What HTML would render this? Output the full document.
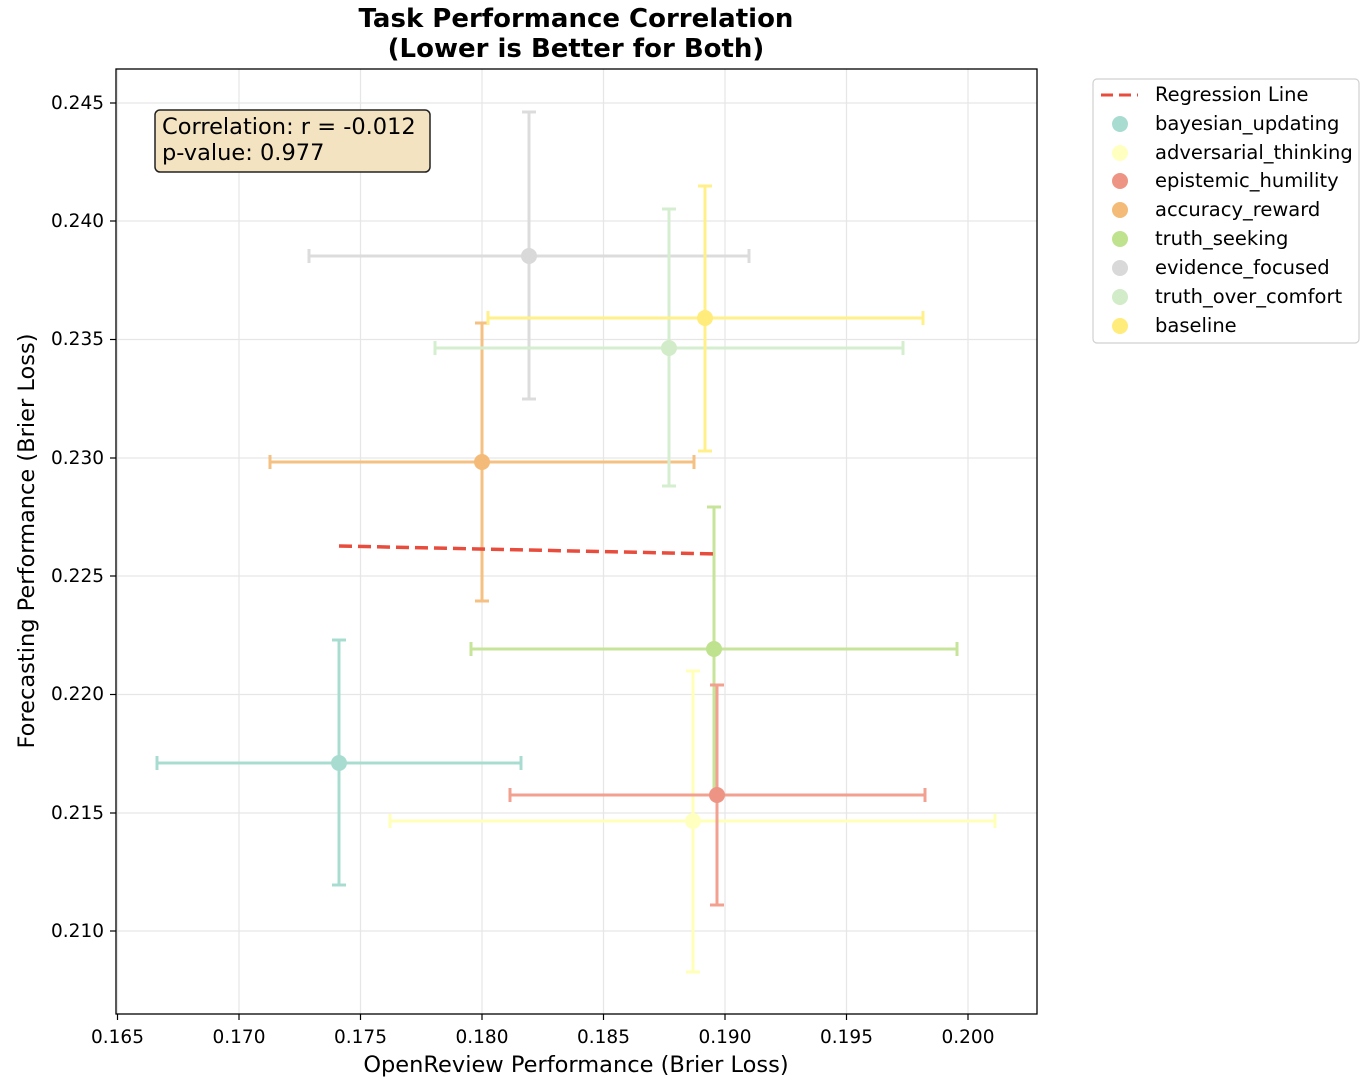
<!DOCTYPE html>
<html><head><meta charset="utf-8"><style>body{margin:0;background:#fff}svg{display:block}text{font-family:"DejaVu Sans","Liberation Sans",sans-serif}</style></head><body>
<svg width="1368" height="1082" viewBox="0 0 1368 1082" xmlns="http://www.w3.org/2000/svg">
<rect width="1368" height="1082" fill="#fff"/>
<text x="576" y="27" font-size="26" font-weight="bold" text-anchor="middle">Task Performance Correlation</text>
<text x="576" y="57" font-size="26" font-weight="bold" text-anchor="middle">(Lower is Better for Both)</text>
<g stroke="#e6e6e6" stroke-width="1.2">
<line x1="117.5" y1="69" x2="117.5" y2="1014"/><line x1="239" y1="69" x2="239" y2="1014"/><line x1="360.5" y1="69" x2="360.5" y2="1014"/><line x1="482" y1="69" x2="482" y2="1014"/><line x1="603.5" y1="69" x2="603.5" y2="1014"/><line x1="725" y1="69" x2="725" y2="1014"/><line x1="846.5" y1="69" x2="846.5" y2="1014"/><line x1="968" y1="69" x2="968" y2="1014"/>
<line x1="116" y1="103" x2="1037" y2="103"/><line x1="116" y1="221" x2="1037" y2="221"/><line x1="116" y1="339.5" x2="1037" y2="339.5"/><line x1="116" y1="458" x2="1037" y2="458"/><line x1="116" y1="576" x2="1037" y2="576"/><line x1="116" y1="694.5" x2="1037" y2="694.5"/><line x1="116" y1="813" x2="1037" y2="813"/><line x1="116" y1="931" x2="1037" y2="931"/>
</g>
<g stroke-width="3" fill="none">
<g stroke="#a8dcd1"><line x1="157" y1="763" x2="521" y2="763"/><line x1="339" y1="640" x2="339" y2="885"/><line x1="157" y1="756" x2="157" y2="770"/><line x1="521" y1="756" x2="521" y2="770"/><line x1="332" y1="640" x2="346" y2="640"/><line x1="332" y1="885" x2="346" y2="885"/></g>
<g stroke="#ffffb8"><line x1="390" y1="821" x2="995" y2="821"/><line x1="693" y1="671" x2="693" y2="972"/><line x1="390" y1="814" x2="390" y2="828"/><line x1="995" y1="814" x2="995" y2="828"/><line x1="686" y1="671" x2="700" y2="671"/><line x1="686" y1="972" x2="700" y2="972"/></g>
<g stroke="#c7e59a"><line x1="471" y1="649" x2="957" y2="649"/><line x1="714" y1="507" x2="714" y2="792"/><line x1="471" y1="642" x2="471" y2="656"/><line x1="957" y1="642" x2="957" y2="656"/><line x1="707" y1="507" x2="721" y2="507"/></g>
<g stroke="#f2a08f"><line x1="510" y1="795" x2="925" y2="795"/><line x1="717" y1="685" x2="717" y2="905"/><line x1="510" y1="788" x2="510" y2="802"/><line x1="925" y1="788" x2="925" y2="802"/><line x1="710" y1="685" x2="724" y2="685"/><line x1="710" y1="905" x2="724" y2="905"/></g>
<g stroke="#f5c182"><line x1="270" y1="462" x2="694" y2="462"/><line x1="482" y1="323" x2="482" y2="601"/><line x1="270" y1="455" x2="270" y2="469"/><line x1="694" y1="455" x2="694" y2="469"/><line x1="475" y1="323" x2="489" y2="323"/><line x1="475" y1="601" x2="489" y2="601"/></g>
<g stroke="#dcdcdc"><line x1="309" y1="256" x2="749" y2="256"/><line x1="529" y1="112" x2="529" y2="399"/><line x1="309" y1="249" x2="309" y2="263"/><line x1="749" y1="249" x2="749" y2="263"/><line x1="522" y1="112" x2="536" y2="112"/><line x1="522" y1="399" x2="536" y2="399"/></g>
<g stroke="#d6eed0"><line x1="435" y1="348" x2="903" y2="348"/><line x1="669" y1="209" x2="669" y2="486"/><line x1="435" y1="341" x2="435" y2="355"/><line x1="903" y1="341" x2="903" y2="355"/><line x1="662" y1="209" x2="676" y2="209"/><line x1="662" y1="486" x2="676" y2="486"/></g>
<g stroke="#fff08a"><line x1="488" y1="318" x2="923" y2="318"/><line x1="705" y1="186" x2="705" y2="451"/><line x1="488" y1="311" x2="488" y2="325"/><line x1="923" y1="311" x2="923" y2="325"/><line x1="698" y1="186" x2="712" y2="186"/><line x1="698" y1="451" x2="712" y2="451"/></g>
</g>
<circle cx="339" cy="763" r="8" fill="#a8dcd1"/><circle cx="693" cy="821" r="8" fill="#ffffc0"/><circle cx="714" cy="649" r="8" fill="#bfe28e"/><circle cx="717" cy="795" r="8" fill="#ee9484"/><circle cx="482" cy="462" r="8" fill="#f4bb78"/><circle cx="529" cy="256" r="8" fill="#d9d9d9"/><circle cx="669" cy="348" r="8" fill="#d2ecca"/><circle cx="705" cy="318" r="8" fill="#ffec7a"/>
<line x1="339" y1="546" x2="717" y2="554" stroke="#e74c3c" stroke-width="3.5" stroke-dasharray="13,6"/>
<rect x="116" y="69" width="921" height="945" fill="none" stroke="#000" stroke-width="1.3"/>
<g stroke="#000" stroke-width="1.2"><line x1="117.5" y1="1014" x2="117.5" y2="1020"/><line x1="239" y1="1014" x2="239" y2="1020"/><line x1="360.5" y1="1014" x2="360.5" y2="1020"/><line x1="482" y1="1014" x2="482" y2="1020"/><line x1="603.5" y1="1014" x2="603.5" y2="1020"/><line x1="725" y1="1014" x2="725" y2="1020"/><line x1="846.5" y1="1014" x2="846.5" y2="1020"/><line x1="968" y1="1014" x2="968" y2="1020"/>
<line x1="110" y1="103" x2="116" y2="103"/><line x1="110" y1="221" x2="116" y2="221"/><line x1="110" y1="339.5" x2="116" y2="339.5"/><line x1="110" y1="458" x2="116" y2="458"/><line x1="110" y1="576" x2="116" y2="576"/><line x1="110" y1="694.5" x2="116" y2="694.5"/><line x1="110" y1="813" x2="116" y2="813"/><line x1="110" y1="931" x2="116" y2="931"/></g>
<g font-size="18.5" text-anchor="middle"><text x="117.5" y="1043">0.165</text><text x="239" y="1043">0.170</text><text x="360.5" y="1043">0.175</text><text x="482" y="1043">0.180</text><text x="603.5" y="1043">0.185</text><text x="725" y="1043">0.190</text><text x="846.5" y="1043">0.195</text><text x="968" y="1043">0.200</text></g>
<g font-size="18.5" text-anchor="end"><text x="104" y="109">0.245</text><text x="104" y="227">0.240</text><text x="104" y="345">0.235</text><text x="104" y="464">0.230</text><text x="104" y="582">0.225</text><text x="104" y="700">0.220</text><text x="104" y="819">0.215</text><text x="104" y="937">0.210</text></g>
<text x="576" y="1072" font-size="22.5" text-anchor="middle">OpenReview Performance (Brier Loss)</text>
<text transform="translate(34,541) rotate(-90)" font-size="22.5" text-anchor="middle">Forecasting Performance (Brier Loss)</text>
<rect x="155" y="110" width="275" height="62" rx="5" fill="#f3e3c0" stroke="#222" stroke-width="1.5"/>
<text x="162" y="134" font-size="22.5">Correlation: r = -0.012</text>
<text x="162" y="160" font-size="22.5">p-value: 0.977</text>
<rect x="1093" y="79" width="266" height="264" rx="4" fill="#fff" stroke="#d0d0d0" stroke-width="1.2"/>
<line x1="1101" y1="95" x2="1138" y2="95" stroke="#e74c3c" stroke-width="3" stroke-dasharray="12,6"/>
<g><circle cx="1120" cy="124" r="8" fill="#a8dcd1"/><circle cx="1120" cy="153" r="8" fill="#ffffc0"/><circle cx="1120" cy="181" r="8" fill="#ee9484"/><circle cx="1120" cy="210" r="8" fill="#f4bb78"/><circle cx="1120" cy="239" r="8" fill="#bfe28e"/><circle cx="1120" cy="268" r="8" fill="#d9d9d9"/><circle cx="1120" cy="297" r="8" fill="#d2ecca"/><circle cx="1120" cy="326" r="8" fill="#ffec7a"/></g>
<g font-size="19.5"><text x="1155" y="101">Regression Line</text><text x="1155" y="130">bayesian_updating</text><text x="1155" y="159">adversarial_thinking</text><text x="1155" y="187">epistemic_humility</text><text x="1155" y="216">accuracy_reward</text><text x="1155" y="245">truth_seeking</text><text x="1155" y="274">evidence_focused</text><text x="1155" y="303">truth_over_comfort</text><text x="1155" y="332">baseline</text></g>
</svg>
</body></html>
